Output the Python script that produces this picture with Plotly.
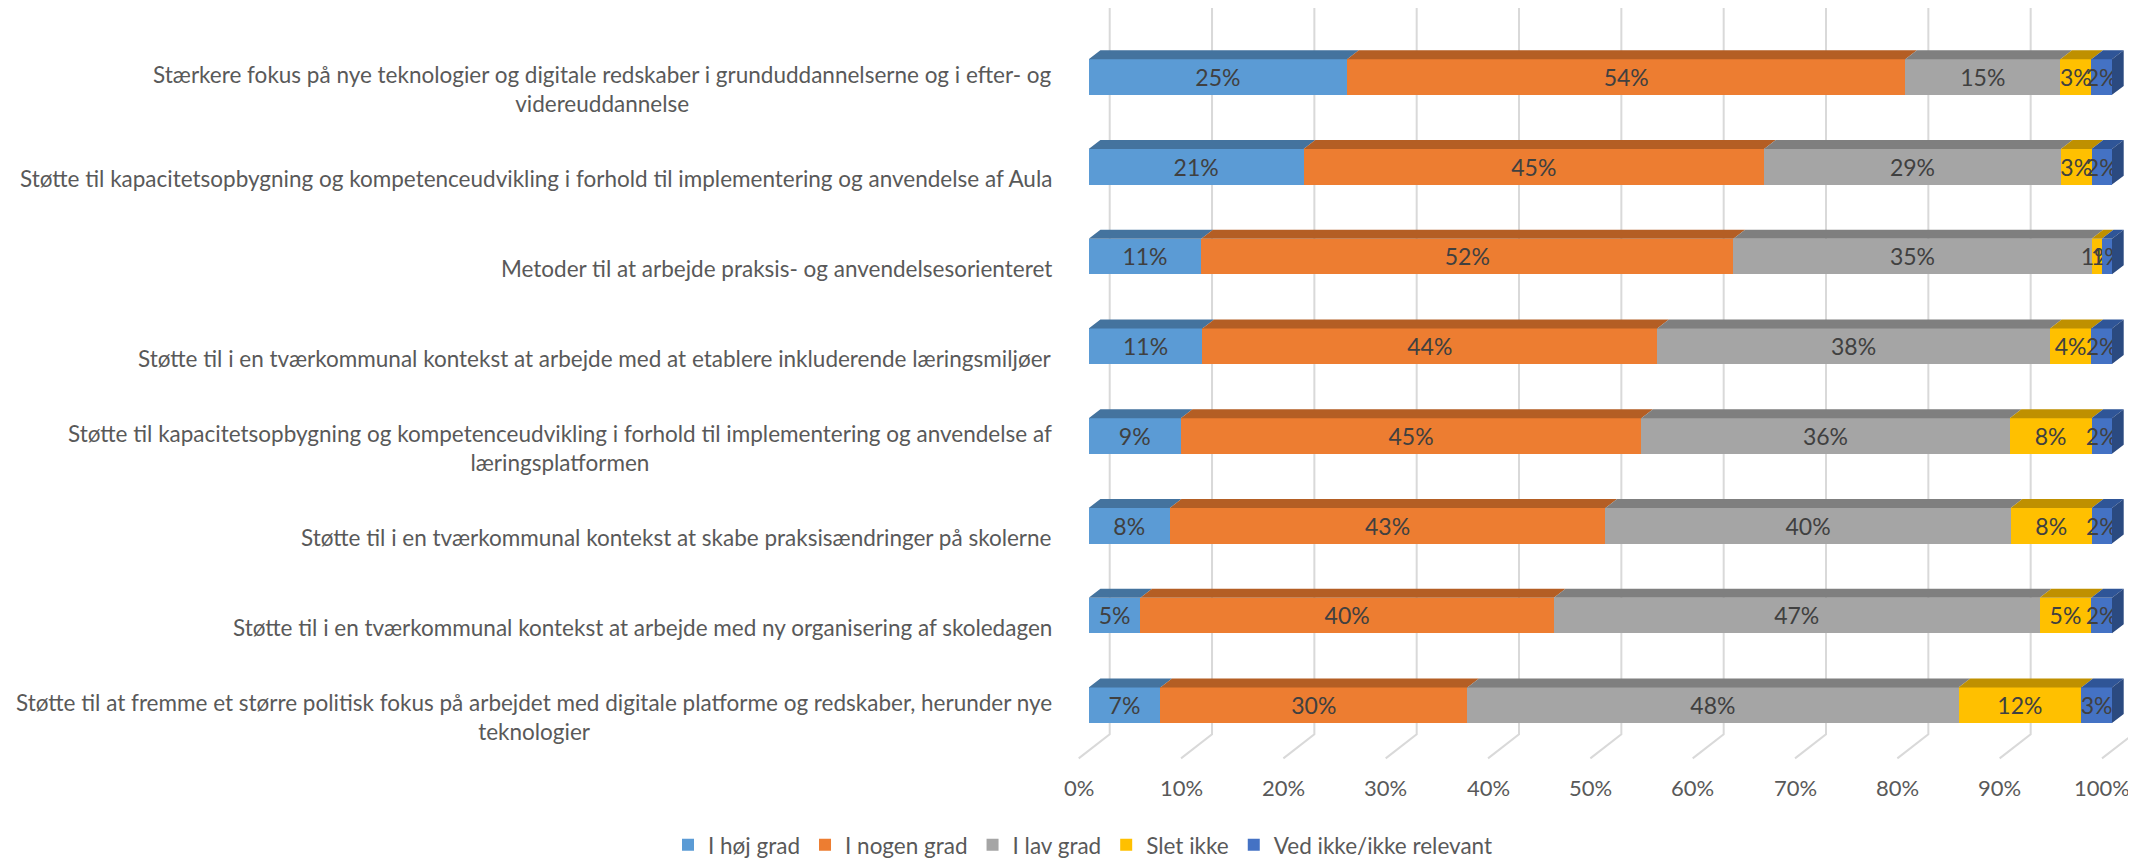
import plotly.graph_objects as go

# ---------------- data ----------------
categories = [
    "Stærkere fokus på nye teknologier og digitale redskaber i grunduddannelserne og i efter- og<br>videreuddannelse",
    "Støtte til kapacitetsopbygning og kompetenceudvikling i forhold til implementering og anvendelse af Aula",
    "Metoder til at arbejde praksis- og anvendelsesorienteret",
    "Støtte til i en tværkommunal kontekst at arbejde med at etablere inkluderende læringsmiljøer",
    "Støtte til kapacitetsopbygning og kompetenceudvikling i forhold til implementering og anvendelse af<br>læringsplatformen",
    "Støtte til i en tværkommunal kontekst at skabe praksisændringer på skolerne",
    "Støtte til i en tværkommunal kontekst at arbejde med ny organisering af skoledagen",
    "Støtte til at fremme et større politisk fokus på arbejdet med digitale platforme og redskaber, herunder nye<br>teknologier",
]
series_names = ["I høj grad", "I nogen grad", "I lav grad", "Slet ikke", "Ved ikke/ikke relevant"]
hoej_grad   = [25, 21, 11, 11, 9, 8, 5, 7]
nogen_grad  = [54, 45, 52, 44, 45, 43, 40, 30]
lav_grad    = [15, 29, 35, 38, 36, 40, 47, 48]
slet_ikke   = [3, 3, 1, 4, 8, 8, 5, 12]
ved_ikke    = [2, 2, 1, 2, 2, 2, 2, 3]
tick_values = [0, 10, 20, 30, 40, 50, 60, 70, 80, 90, 100]

# ---------------- style ----------------
front_colors = ["#5B9BD5", "#ED7D31", "#A5A5A5", "#FFC000", "#4472C4"]
top_colors   = ["#44739E", "#B45E24", "#7F7F7F", "#BF9000", "#2F5597"]
side_color   = "#2B4A80"
text_color   = "#595959"
label_font   = "Lato"

W, H = 2136, 859
PX_X, X0PX = 10.233, 1080.7          # px per % and px of 0% (front face)
PX_Y, Y0PX = 90.7, 69.7              # px per row and px of first row centre
def xd(px): return (px - X0PX) / PX_X
def yd(px): return (px - Y0PX) / PX_Y

BAR_W = 36 / PX_Y
DX, DY = 11.7 / PX_X, 9 / PX_Y       # 3-D depth vector
BACK_DX = 21 / PX_X
FLOOR_DX = -10 / PX_X

series = [hoej_grad, nogen_grad, lav_grad, slet_ikke, ved_ikke]
n = len(categories)
rows = list(range(n))
totals = [sum(s[i] for s in series) for i in rows]
norm = [[s[i] / totals[i] * 100 for i in rows] for s in series]

fig = go.Figure()

# front faces
for k, name in enumerate(series_names):
    fig.add_trace(go.Bar(
        y=rows, x=norm[k], orientation="h", name=name, width=BAR_W,
        marker=dict(color=front_colors[k], line=dict(width=0)),
        text=[f"{v}%" for v in series[k]], textposition="inside",
        insidetextanchor="middle", textangle=0,
        textfont=dict(family=label_font, size=23, color="#404040"),
        hoverinfo="skip", cliponaxis=False,
    ))

# top faces (parallelograms) and right side face
for k in range(len(series)):
    xs, ys = [], []
    for i in rows:
        a = sum(norm[j][i] for j in range(k))
        b = a + norm[k][i]
        yt = i - BAR_W / 2
        xs += [a, b, b + DX, a + DX, a, None]
        ys += [yt, yt, yt - DY, yt - DY, yt, None]
    fig.add_trace(go.Scatter(x=xs, y=ys, mode="none", fill="toself",
                             fillcolor=top_colors[k], showlegend=False,
                             hoverinfo="skip"))
xs, ys = [], []
for i in rows:
    e = sum(norm[j][i] for j in range(len(series)))
    yt, yb = i - BAR_W / 2, i + BAR_W / 2
    xs += [e, e + DX, e + DX, e, e, None]
    ys += [yt, yt - DY, yb - DY, yb, yt, None]
fig.add_trace(go.Scatter(x=xs, y=ys, mode="none", fill="toself",
                         fillcolor=side_color, showlegend=False, hoverinfo="skip"))

# gridlines (back wall + floor) and tick labels
shapes, annotations = [], []
for t in tick_values:
    xb, xf = t + BACK_DX, t + FLOOR_DX
    shapes.append(dict(type="path", layer="below", xref="x", yref="y",
                       path=f"M {xb},{yd(0)} L {xb},{yd(734)} L {xf},{yd(758.3)}",
                       line=dict(color="#D9D9D9", width=2)))
    annotations.append(dict(x=xf, y=yd(788), xref="x", yref="y", text=f"{t}%",
                            showarrow=False, xanchor="center", yanchor="middle",
                            font=dict(family=label_font, size=22, color=text_color)))

# category labels
for i, c in enumerate(categories):
    annotations.append(dict(x=xd(1046), y=i + 12 / PX_Y, xref="x", yref="y", text=c,
                            showarrow=False, xanchor="right", yanchor="middle",
                            align="center",
                            font=dict(family=label_font, size=22.5, color=text_color)))

fig.update_layout(
    width=W, height=H, margin=dict(l=0, r=0, t=0, b=0),
    paper_bgcolor="white", plot_bgcolor="white",
    barmode="stack", shapes=shapes, annotations=annotations,
    xaxis=dict(range=[xd(0), xd(W)], showgrid=False, zeroline=False,
               showticklabels=False, fixedrange=True),
    yaxis=dict(range=[yd(H), yd(0)], showgrid=False, zeroline=False,
               showticklabels=False, fixedrange=True),
    uniformtext=dict(minsize=23, mode="show"),
    legend=dict(orientation="h", x=660 / W, y=1 - 846 / H, xanchor="left",
                yanchor="middle", font=dict(family=label_font, size=22.5, color=text_color),
                itemwidth=30, traceorder="normal"),
    showlegend=True,
)

fig.write_html("out.html")
